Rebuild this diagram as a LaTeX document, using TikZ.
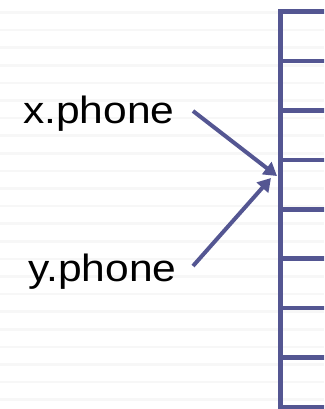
\documentclass[tikz,border=0pt]{standalone}
\usepackage{fontspec}
\setmainfont{Liberation Sans}
\usetikzlibrary{arrows.meta}
\definecolor{boxblue}{RGB}{84,86,146}
\definecolor{ruleline}{RGB}{247,247,247}
\tikzset{
  lbl/.style={anchor=base west, inner sep=0pt, font=\fontsize{38}{40}\selectfont, text=black},
  ptr/.style={draw=boxblue, line width=4pt, -{Triangle[length=13pt,width=15pt]}},
  grid/.style={draw=boxblue, line width=4.5pt},
  bgline/.style={draw=ruleline, line width=2.5pt}
}
\begin{document}
\begin{tikzpicture}[x=1pt,y=-1pt]
\useasboundingbox (0,0) rectangle (324,409);
\fill[white] (0,0) rectangle (324,409);
\foreach \i in {0,...,23} {
  \draw[bgline] (0,{12.5+17.6*\i}) -- (324,{12.5+17.6*\i});
}
\begin{scope}
\clip (0,0) rectangle (324,409);
\draw[grid] (340,11.5) -- (280.5,11.5) -- (280.5,407) -- (340,407);
\foreach \i in {1,...,7} {
  \draw[grid] (280.5,{11.5+49.44*\i}) -- (340,{11.5+49.44*\i});
}
\end{scope}
\node[lbl] (xp) at (23,123) {\scalebox{1.12}[1]{x.phone}};
\node[lbl] (yp) at (28,281) {\scalebox{1.12}[1]{y.phone}};
\coordinate (xs) at (193,111);
\coordinate (ys) at (193,266);
\coordinate (xt) at (277,176);
\coordinate (yt) at (271,178);
\draw[ptr] (xs) -- (xt);
\draw[ptr] (ys) -- (yt);
\end{tikzpicture}
\end{document}
